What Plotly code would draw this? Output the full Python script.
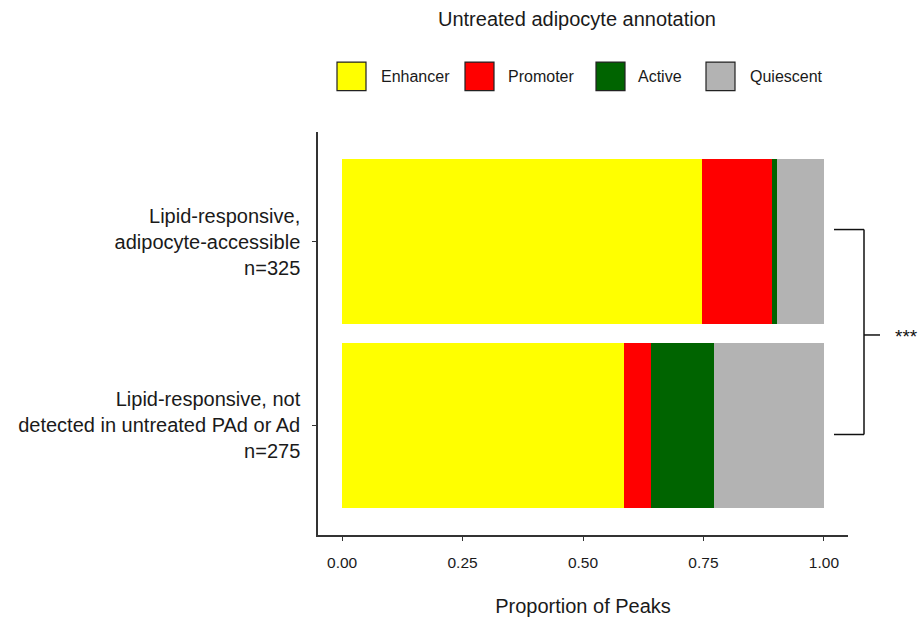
import plotly.graph_objects as go

categories = ["Lipid-responsive, not<br>detected in untreated PAd or Ad<br>n=275",
              "Lipid-responsive,<br>adipocyte-accessible<br>n=325"]
annotation_names = ["Enhancer", "Promoter", "Active", "Quiescent"]
colors = ["#FFFF00", "#FF0000", "#006400", "#B3B3B3"]
enhancer = [0.585, 0.748]
promoter = [0.057, 0.145]
active = [0.129, 0.009]
quiescent = [0.229, 0.098]
series = [enhancer, promoter, active, quiescent]
x_ticks = [0.0, 0.25, 0.5, 0.75, 1.0]
x_ticklabels = ["0.00", "0.25", "0.50", "0.75", "1.00"]
signif_label = "***"

FONT = "Liberation Sans, Arial, sans-serif"
W, H = 919, 626
L, R, T, B = 318, 848, 132, 541

def px(x):
    return (x - L) / (R - L)

def py(y):
    return (B - y) / (B - T)

fig = go.Figure()
for name, vals, col in zip(annotation_names, series, colors):
    fig.add_trace(go.Bar(y=categories, x=vals, name=name, orientation="h",
                         marker=dict(color=col, line=dict(width=0)), width=0.9,
                         showlegend=False))

shapes = []
annots = []
line_col = "#333333"
# manual legend
box_x = [337, 465, 596, 706]
txt_x = [379, 506, 636, 748]
for bx, tx, name, col in zip(box_x, txt_x, annotation_names, colors):
    shapes.append(dict(type="rect", xref="paper", yref="paper",
                       x0=px(bx), x1=px(bx + 29), y0=py(61), y1=py(90),
                       fillcolor=col, line=dict(color="#222222", width=1.2)))
    annots.append(dict(xref="paper", yref="paper", x=px(tx), y=py(76), text=name,
                       showarrow=False, xanchor="left", yanchor="middle",
                       font=dict(size=16, color="#1a1a1a", family=FONT)))
annots.append(dict(xref="paper", yref="paper", x=px(577), y=py(17),
                   text="Untreated adipocyte annotation", showarrow=False,
                   xanchor="center", yanchor="middle",
                   font=dict(size=20, color="#1a1a1a", family=FONT)))
# significance bracket
for (x0, y0, x1, y1) in [(834, 231, 864, 231), (864, 231, 864, 439),
                         (834, 439, 864, 439), (864, 338, 880, 338)]:
    shapes.append(dict(type="line", xref="paper", yref="paper",
                       x0=px(x0), x1=px(x1), y0=py(y0), y1=py(y1),
                       line=dict(color="#111111", width=1.5)))
annots.append(dict(xref="paper", yref="paper", x=px(893), y=py(340),
                   text=signif_label, showarrow=False, xanchor="left",
                   yanchor="middle", font=dict(size=19, color="#111111", family=FONT)))

fig.update_layout(
    barmode="stack", width=W, height=H,
    margin=dict(l=L, r=W - R, t=T, b=H - B, pad=0),
    plot_bgcolor="white", paper_bgcolor="white",
    font=dict(family=FONT, color="#1a1a1a"),
    shapes=shapes, annotations=annots, showlegend=False,
    xaxis=dict(range=[-0.05, 1.05], tickvals=x_ticks, ticktext=x_ticklabels,
               showgrid=False, zeroline=False, showline=True, linecolor=line_col,
               linewidth=1.5, ticks="outside", ticklen=4, tickcolor=line_col,
               tickfont=dict(size=15.5, color="#1a1a1a"), ticklabelstandoff=9,
               title=dict(text="Proportion of Peaks", font=dict(size=20, color="#1a1a1a"),
                          standoff=29)),
    yaxis=dict(type="category", categoryorder="array", categoryarray=categories,
               range=[-0.6, 1.6], showgrid=False, zeroline=False, showline=True,
               linecolor=line_col, linewidth=1.5, ticks="outside", ticklen=4,
               tickcolor=line_col, tickfont=dict(size=20, color="#1a1a1a"),
               ticklabelstandoff=8),
)
fig.write_html("out.html", config={"displayModeBar": False},
               post_script="document.body.style.margin='0';document.body.style.padding='0';")
